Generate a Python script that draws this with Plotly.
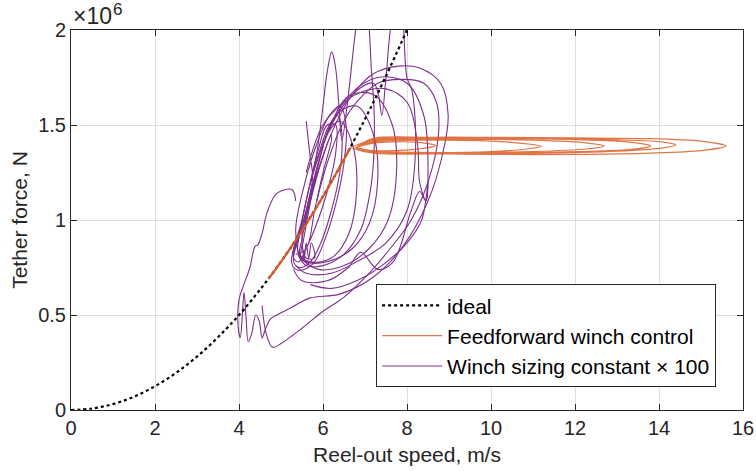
import plotly.graph_objects as go

# ---------------- data (force in units of 1e6 N) ----------------
ideal_v = [0, 0.5, 1, 1.5, 2, 2.5, 3, 3.5, 4, 4.5, 5, 5.5, 6, 6.5, 7, 7.5, 8]
ideal_f = [0, 0.0078, 0.031, 0.070, 0.125, 0.195, 0.281, 0.383, 0.5, 0.633,
           0.781, 0.945, 1.125, 1.320, 1.531, 1.758, 2.0]

# feedforward: ramp along the ideal curve, then horizontal loops
ff_ramp_v = [4.7, 5.0, 5.4, 5.8, 6.2, 6.65]
ff_ramp_f = [0.69, 0.78, 0.91, 1.05, 1.20, 1.38]

ff_loop_v = [6.65,
             7.2, 8.5, 10, 12, 13.8, 15.0, 15.6, 15.0, 13.8, 12, 10, 8.5, 7.2, 6.75,
             7.2, 8.5, 10, 10.9, 11.2, 10.9, 10, 8.5, 7.2, 6.8,
             7.2, 9, 11, 13, 14.1, 14.4, 14.1, 13, 11, 9, 7.2, 6.8,
             7.2, 9, 11, 12.3, 12.7, 12.3, 11, 9, 7.2, 6.8,
             7.2, 9, 11, 13.3, 13.8, 13.3, 11, 9, 7.2, 6.8,
             7.2, 8.2, 8.7, 8.2, 7.2, 6.8]
ff_loop_f = [1.38,
             1.425, 1.435, 1.435, 1.432, 1.428, 1.415, 1.39, 1.365, 1.352, 1.345, 1.345, 1.35, 1.36, 1.375,
             1.41, 1.42, 1.415, 1.40, 1.388, 1.375, 1.36, 1.355, 1.36, 1.38,
             1.43, 1.432, 1.43, 1.422, 1.41, 1.395, 1.38, 1.362, 1.35, 1.348, 1.352, 1.375,
             1.415, 1.425, 1.42, 1.405, 1.39, 1.375, 1.36, 1.355, 1.362, 1.38,
             1.42, 1.43, 1.428, 1.41, 1.39, 1.37, 1.355, 1.35, 1.358, 1.378,
             1.405, 1.41, 1.392, 1.372, 1.365, 1.38]

# purple trajectory pieces (None = break)
ws_v = [
    # narrow core loops along the diagonal
    5.6, 5.68, 5.75, 5.6, 5.45, 5.3, 5.45, 5.7, 5.95, 6.2, 6.4, 6.45, 6.35, 6.15, 5.9, 5.65,
    5.45, 5.3, 5.42, 5.6, 5.85, 6.1, 6.3, 6.3, 6.1, 5.9, 5.7, 5.5, 5.25, 5.35, 5.55, 5.8,
    6.05, 6.3, 6.5, 6.55, 6.4, 6.15, 5.85, 5.55, 5.35, 5.45, 5.5, 5.55, 5.6, 5.66, 5.72,
    5.8, 5.6, 5.5, 5.7, 5.95, 6.2, 6.2, 6.0, 5.8, 5.6, 5.35, None,
    # tall narrow loop and spike over the top
    5.4, 5.6, 5.85, 6.0, 6.1, 6.21, 6.3, 6.38, 6.45, 6.6, 6.75, 6.85, 6.95, 7.05, 7.15, 7.22,
    7.2, 7.1, 6.9, 6.5, 6.0, 5.6, 5.4, None,
    # nested loops
    5.5, 5.8, 6.1, 6.4, 6.7, 6.8, 6.6, 6.2, 5.7, 5.45,
    5.5, 5.9, 6.3, 6.8, 7.2, 7.3, 7.1, 6.7, 6.1, 5.6, 5.4,
    5.6, 6.1, 6.6, 7.2, 7.65, 7.75, 7.55, 7.1, 6.5, 5.9, 5.45, None,
    5.7, 6.2, 6.8, 7.2, 7.32, 7.4, 7.5, 7.64, 7.8, 7.9, 8.0, 8.12, 8.2, 8.0, 7.5, 6.8, 6.2, 5.6,
    5.35, None,
    6.0, 6.6, 7.3, 8.0, 8.4, 8.5, 8.45, 8.3, 8.1, 7.67, 7.3, 6.9, 6.6, 6.1, 5.5, 5.3, None,
    # left hump, low wavy part and largest loop
    5.35, 5.26, 4.9, 4.67, 4.55, 4.45, 4.38, 4.26, 4.1, 4.0, 3.98, 4.03, 4.08, 4.12, 4.17,
    4.22, 4.3, 4.4, 4.48, 4.55, 4.62, 4.75, 4.9, 5.25, 5.7, 6.4, 7.2, 7.9, 8.5, 8.85,
    8.98, 8.8, 8.3, 7.8, 7.2, 6.7, 6.4, 6.1, 5.8, 5.55, None,
    4.55, 4.65, 4.8, 5.0, 5.5, 6.0, 6.48, 7.1, 7.6, 8.1, 8.5, 8.75, 8.7, 8.4, 7.9, 7.3, 6.8,
    6.45, 6.1, 5.85, None,
    5.6, 6.0, 6.5, 7.0, 7.5, 8.0, 8.25, 8.3, 8.45, 8.5, 8.35, 8.0, 7.4, 6.8, 6.2, 5.7]
ws_f = [
    1.52, 1.36, 1.22, 1.05, 0.93, 0.78, 0.75, 0.78, 0.88, 1.05, 1.25, 1.45, 1.55, 1.5, 1.35, 1.15,
    0.95, 0.80, 0.78, 0.85, 0.98, 1.15, 1.35, 1.5, 1.5, 1.38, 1.2, 1.0, 0.78, 0.74, 0.74, 0.78,
    0.9, 1.08, 1.3, 1.5, 1.6, 1.55, 1.4, 1.18, 0.95, 0.80, 0.87, 0.79, 0.88, 0.80, 0.88,
    0.80, 0.80, 0.92, 1.1, 1.3, 1.45, 1.42, 1.25, 1.05, 0.85, 0.82, None,
    0.88, 1.1, 1.35, 1.6, 1.78, 1.885, 1.8, 1.6, 1.42, 1.65, 1.95, 2.10, 2.15, 2.10, 1.80, 1.55,
    1.30, 1.12, 0.95, 0.82, 0.76, 0.76, 0.82, None,
    0.85, 1.2, 1.45, 1.52, 1.4, 1.15, 0.92, 0.80, 0.78, 0.82,
    0.9, 1.3, 1.55, 1.6, 1.45, 1.2, 0.98, 0.85, 0.78, 0.78, 0.84,
    1.05, 1.45, 1.65, 1.66, 1.5, 1.25, 1.0, 0.85, 0.76, 0.74, 0.8, None,
    1.2, 1.5, 1.68, 1.72, 1.66, 1.55, 1.75, 2.05, 2.15, 2.05, 1.75, 1.68, 1.35, 1.05, 0.88, 0.78,
    0.72, 0.72, 0.76, None,
    1.4, 1.65, 1.75, 1.72, 1.55, 1.25, 1.1, 1.15, 1.05, 0.78, 0.74, 0.83, 0.75, 0.68, 0.68, 0.74, None,
    1.10, 1.16, 1.14, 1.04, 0.93, 0.87, 0.86, 0.75, 0.65, 0.58, 0.44, 0.38, 0.5, 0.62, 0.48,
    0.36, 0.40, 0.5, 0.47, 0.38, 0.42, 0.48, 0.50, 0.54, 0.59, 0.61, 0.70, 0.86, 1.10, 1.35,
    1.55, 1.72, 1.80, 1.81, 1.77, 1.66, 1.55, 1.40, 1.20, 0.95, None,
    0.55, 0.40, 0.33, 0.35, 0.43, 0.52, 0.59, 0.72, 0.85, 1.00, 1.20, 1.45, 1.62, 1.72, 1.74, 1.72, 1.62,
    1.50, 1.30, 1.10, None,
    1.25, 1.5, 1.62, 1.68, 1.69, 1.62, 1.4, 1.2, 1.1, 1.2, 1.0, 0.88, 0.76, 0.68, 0.64, 0.66]

x_ticks = [0, 2, 4, 6, 8, 10, 12, 14, 16]
y_ticks = [0, 0.5, 1, 1.5, 2]
y_tick_text = ["0", "0.5", "1", "1.5", "2"]

ORANGE = "rgb(220,90,40)"
ORANGE_LOOP = "rgba(217,83,25,0.8)"
PURPLE = "rgb(126,47,142)"
TXT = "rgb(38,38,38)"
FONT = "Liberation Sans, Arial, sans-serif"

fig = go.Figure()
fig.add_trace(go.Scatter(x=ws_v, y=ws_f, mode="lines", name="Winch sizing constant \u00d7 100",
                         line=dict(color=PURPLE, width=1.1, shape="spline", smoothing=1.0),
                         connectgaps=False, legendrank=3))
fig.add_trace(go.Scatter(x=ideal_v, y=ideal_f, mode="lines", name="ideal",
                         line=dict(color="black", width=2.2, dash="dot", shape="spline"),
                         legendrank=1))
fig.add_trace(go.Scatter(x=ff_loop_v, y=ff_loop_f, mode="lines", name="Feedforward winch control",
                         legendgroup="ff",
                         line=dict(color=ORANGE_LOOP, width=1.2, shape="spline", smoothing=0.8),
                         legendrank=2))
fig.add_trace(go.Scatter(x=ff_ramp_v, y=ff_ramp_f, mode="lines", name="Feedforward winch control",
                         legendgroup="ff", showlegend=False,
                         line=dict(color=ORANGE, width=2.2, shape="spline")))

axis_common = dict(showline=True, linecolor=TXT, linewidth=1, mirror="ticks",
                   ticks="inside", ticklen=6, tickcolor=TXT, showgrid=True,
                   gridcolor="rgb(222,222,222)", gridwidth=1, zeroline=False,
                   automargin=False,
                   tickfont=dict(family=FONT, size=20, color=TXT))

fig.update_xaxes(range=[0, 16], tickvals=x_ticks, ticktext=[str(t) for t in x_ticks],
                 title=dict(text="Reel-out speed, m/s", font=dict(family=FONT, size=21, color=TXT),
                            standoff=9),
                 **axis_common)
fig.update_yaxes(range=[0, 2], tickvals=y_ticks, ticktext=y_tick_text,
                 title=dict(text="Tether force, N", font=dict(family=FONT, size=21, color=TXT),
                            standoff=4),
                 **axis_common)

# exponent label "x10^6" drawn as base + superscript
fig.add_annotation(x=0, y=1, xref="paper", yref="paper", xanchor="left", yanchor="middle",
                   text="\u00d710", showarrow=False, xshift=0, yshift=14,
                   font=dict(family=FONT, size=23, color=TXT))
fig.add_annotation(x=0, y=1, xref="paper", yref="paper", xanchor="left", yanchor="middle",
                   text="6", showarrow=False, xshift=40, yshift=21,
                   font=dict(family=FONT, size=17, color=TXT))

fig.update_layout(width=756, height=471, margin=dict(l=71, r=13, t=30, b=61),
                  paper_bgcolor="white", plot_bgcolor="white",
                  legend=dict(x=0.96, y=0.06, xanchor="right", yanchor="bottom",
                              bgcolor="white", bordercolor=TXT, borderwidth=1,
                              font=dict(family=FONT, size=21, color="black"),
                              tracegroupgap=0, itemwidth=60))

fig.write_html("out.html")
